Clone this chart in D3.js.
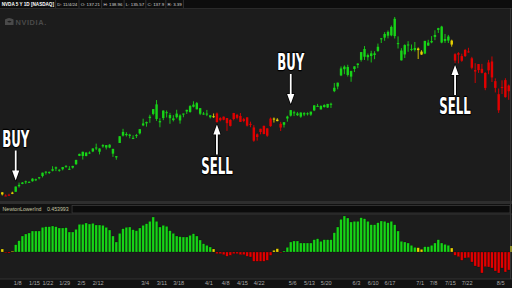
<!DOCTYPE html>
<html lang="en">
<head>
<meta charset="UTF-8">
<title>NVDA NewtonLowerInd</title>
<script src="https://cdn.jsdelivr.net/npm/d3@7"></script>
<style>
    html, body { margin: 0; padding: 0; background: #1c1c1c; }
    svg { display: block; }
</style>
</head>
<body>
<svg id="chart" width="512" height="288"></svg>
<script>
// trading days 2024 (1/2 .. 8/8)
var dates = [
    "1/2","1/3","1/4","1/5","1/8","1/9","1/10","1/11","1/12","1/16","1/17","1/18","1/19","1/22","1/23","1/24","1/25","1/26","1/29","1/30","1/31",
    "2/1","2/2","2/5","2/6","2/7","2/8","2/9","2/12","2/13","2/14","2/15","2/16","2/20","2/21","2/22","2/23","2/26","2/27","2/28","2/29",
    "3/1","3/4","3/5","3/6","3/7","3/8","3/11","3/12","3/13","3/14","3/15","3/18","3/19","3/20","3/21","3/22","3/25","3/26","3/27","3/28",
    "4/1","4/2","4/3","4/4","4/5","4/8","4/9","4/10","4/11","4/12","4/15","4/16","4/17","4/18","4/19","4/22","4/23","4/24","4/25","4/26","4/29","4/30",
    "5/1","5/2","5/3","5/6","5/7","5/8","5/9","5/10","5/13","5/14","5/15","5/16","5/17","5/20","5/21","5/22","5/23","5/24","5/28","5/29","5/30","5/31",
    "6/3","6/4","6/5","6/6","6/7","6/10","6/11","6/12","6/13","6/14","6/17","6/18","6/20","6/21","6/24","6/25","6/26","6/27","6/28",
    "7/1","7/2","7/3","7/5","7/8","7/9","7/10","7/11","7/12","7/15","7/16","7/17","7/18","7/19","7/22","7/23","7/24","7/25","7/26","7/29","7/30","7/31",
    "8/1","8/2","8/5","8/6","8/7","8/8"
];
var opens = [
    49.24,47.49,47.77,48.46,49.51,52.40,53.62,54.99,54.62,55.02,55.52,56.61,57.72,60.00,59.92,60.51,62.30,60.94,61.27,62.90,61.49,
    62.13,63.93,68.26,70.40,68.21,70.00,70.56,72.63,70.42,73.20,73.87,74.10,71.90,68.10,75.00,80.77,79.70,79.35,77.63,79.02,
    80.00,84.18,85.24,88.00,90.16,95.14,86.42,88.00,91.06,89.59,86.93,90.33,86.76,89.80,92.30,91.18,93.90,95.80,93.16,90.00,
    90.29,88.44,88.48,90.40,86.87,88.73,88.02,83.92,87.48,89.67,89.09,86.48,88.35,84.97,83.11,78.10,80.70,83.94,78.80,83.80,87.50,87.21,
    85.00,84.50,87.76,89.25,91.00,89.49,90.87,90.56,90.49,89.81,92.00,94.33,94.31,93.75,93.50,95.47,102.03,104.45,110.24,113.51,114.65,112.52,
    113.62,115.72,118.37,124.05,119.77,120.37,121.77,123.06,129.39,129.96,132.99,131.14,139.80,127.12,123.24,121.20,126.13,124.10,124.58,
    123.47,121.13,121.66,127.38,127.49,130.35,134.03,135.75,128.26,130.56,128.44,121.35,121.85,120.35,120.35,122.78,119.17,113.04,116.19,113.69,111.52,112.90,
    117.53,103.76,92.06,103.84,107.81,102.00
];
var highs = [
    49.30,48.18,48.50,49.55,52.28,54.33,54.60,55.35,54.97,56.59,56.38,57.26,59.50,60.29,60.06,62.87,62.70,61.28,62.48,63.49,62.90,
    63.06,66.20,69.40,70.45,70.03,70.59,72.18,74.65,72.22,74.38,73.94,74.35,71.99,68.20,78.57,82.39,80.61,79.77,78.99,79.72,
    82.32,87.66,86.15,89.73,92.67,97.40,87.92,91.97,91.95,90.71,89.50,92.32,89.96,90.30,92.33,94.76,96.76,96.38,93.25,91.20,
    92.25,89.46,90.38,90.90,88.47,88.80,88.03,87.39,90.70,90.18,90.61,88.10,88.41,86.12,84.30,80.00,82.40,84.05,82.65,88.30,88.30,87.92,
    86.02,85.89,89.24,92.22,91.80,91.20,90.96,91.10,90.98,91.31,94.63,95.40,94.70,95.19,95.38,96.00,106.32,106.48,114.94,115.49,115.82,112.72,
    115.00,116.60,122.45,125.59,121.69,123.10,122.87,126.88,129.80,132.84,133.73,136.33,140.76,130.63,124.46,126.50,128.12,126.41,127.71,
    124.84,123.41,128.28,128.85,130.77,133.82,135.10,136.15,131.92,131.39,128.92,121.85,122.40,121.60,124.07,124.69,119.95,116.63,116.20,116.28,111.99,118.34,
    120.16,108.72,103.41,107.71,108.80,105.50
];
var lows = [
    47.60,47.32,47.51,48.31,49.48,51.69,53.49,53.60,54.33,54.79,55.10,56.01,57.00,58.48,58.81,60.18,60.31,60.00,60.68,62.14,60.95,
    61.64,63.52,68.16,66.34,68.00,69.27,70.20,71.27,69.02,72.52,71.59,72.26,67.71,66.26,75.00,78.37,78.36,77.42,77.02,77.58,
    79.43,83.77,83.51,85.51,89.45,86.52,83.20,86.89,88.30,85.02,86.22,87.80,85.06,88.41,90.15,90.78,93.55,92.51,89.53,89.70,
    89.00,87.82,88.10,85.65,86.30,86.81,81.32,83.60,86.82,87.32,85.98,85.80,83.60,83.22,75.61,76.20,79.50,79.50,78.20,83.40,85.64,86.33,
    81.24,83.06,86.11,88.79,89.04,89.08,88.13,89.01,89.32,89.15,91.61,94.07,92.50,93.44,93.26,93.26,101.52,103.00,109.88,110.90,109.66,106.94,
    112.00,114.04,117.47,118.32,118.02,117.01,118.74,122.57,127.16,128.32,129.58,130.69,129.52,124.30,118.04,119.32,122.60,122.92,122.75,
    118.83,121.03,121.36,125.68,127.04,128.65,132.42,127.04,127.22,127.18,125.26,116.72,116.56,117.37,119.86,122.10,113.44,106.30,111.58,111.30,102.54,110.88,
    106.81,101.37,90.69,100.55,98.69,97.52
];
var closes = [
    48.17,47.57,48.00,49.10,52.25,53.14,54.35,54.82,54.70,56.38,56.05,57.10,59.49,59.61,59.85,61.30,61.62,61.02,62.44,62.77,61.53,
    63.03,66.16,69.30,68.21,70.01,69.63,72.13,72.23,72.11,73.90,72.61,72.60,69.42,67.45,78.51,78.82,79.09,78.70,77.66,79.11,
    82.23,85.20,85.96,88.70,92.67,87.53,85.76,91.91,90.87,87.93,87.84,88.45,89.37,90.36,91.43,94.25,95.00,92.56,90.25,90.36,
    90.34,89.44,88.96,85.90,88.00,87.11,85.34,87.04,90.62,88.12,86.00,87.42,84.04,84.60,76.20,79.52,82.41,79.68,82.63,87.72,87.74,86.40,
    83.04,85.82,88.79,92.14,90.55,90.41,88.75,89.87,90.40,91.35,94.63,94.36,92.48,94.78,95.39,94.95,103.80,106.47,113.90,114.83,110.50,109.63,
    115.00,116.44,122.44,120.00,120.89,121.79,120.91,125.20,129.61,131.88,130.98,135.58,130.78,126.57,118.11,126.09,126.40,123.99,123.54,
    124.30,122.67,128.28,125.83,128.20,131.38,134.91,127.40,129.24,128.44,126.36,117.99,121.09,117.93,123.54,122.59,114.25,112.28,113.06,111.59,103.73,117.02,
    109.21,107.27,100.45,104.25,98.91,104.97
];
// NewtonLowerInd histogram, one value per day
var histValues = [
    3,-0.5,-1,0.8,7.3,11.3,16,18,19,21,21,21,24.7,25.3,25.3,26,25.3,24,24,24.3,
    20,20,22.7,27.7,27.7,29,28,28.7,27,27,26.7,24.7,22,16,10,18.7,23.3,24.7,25,22.3,
    21.3,24,26.7,28.3,30.7,35,30.7,25,26.7,25.7,21.3,18.7,16,15.3,15,15,16.7,18.3,16,12,
    8.3,6.7,5,3,-1.7,-1.7,-2.7,-4.3,-3.3,-1.7,-1.7,-2.7,-2.7,-4.3,-5,-9.3,-9.3,-9.3,-9.3,-8.3,
    -3.3,1.7,3.3,-0.7,1,4.7,10,11,11,9,9,9,9,12.3,13.3,10.7,12.3,12.3,12.3,19.3,
    25,32.7,36,34,30,30.7,30.7,34.3,33.3,30.7,27.3,27.3,29.3,31,30.7,29.3,30.7,27.3,21,10.7,
    10,9,6.7,4.7,4.3,2.7,5.3,5.3,6.7,9,12.3,9,7.7,6.7,4,-3.3,-4.7,-8.3,-6,-5.7,
    -10,-14,-15,-21,-14.7,-15,-16,-19,-21,-16,-20,-18
];
// signal state runs: g = long, r = short, y = transition
var signalRuns = [["y",1],["r",2],["y",1],["g",59],["y",1],["r",17],["y",2],["r",1],["g",40],["y",2],["g",8],["y",1],["r",17]];

var tickDates  = ["1/8","1/16","1/22","1/29","2/5","2/12","3/4","3/11","3/18","4/1","4/8","4/15","4/22","5/6","5/13","5/20","6/3","6/10","6/17","7/1","7/8","7/15","7/22","8/5"];
var tickLabels = ["1/8","1/15","1/22","1/29","2/5","2/12","3/4","3/11","3/18","4/1","4/8","4/15","4/22","5/6","5/13","5/20","6/3","6/10","6/17","7/1","7/8","7/15","7/22","8/5"];

var headerFields = ["NVDA 5 Y 1D [NASDAQ]","D: 11/4/24","O: 137.21","H: 138.96","L: 135.57","C: 137.9","R: 3.39"];
var studyFields = ["NewtonLowerInd","0.453993"];

var annotations = [
    {text: "BUY",  date: "1/8",  dir: "down"},
    {text: "SELL", date: "4/4",  dir: "up"},
    {text: "BUY",  date: "5/6",  dir: "down"},
    {text: "SELL", date: "7/17", dir: "up"}
];

var colors = {g: "#17d417", r: "#e20000", y: "#e8d200"};

// expand signal runs
var signal = [];
signalRuns.forEach(function (r) {
    for (var k = 0; k < r[1]; k++) signal.push(r[0]);
});

var svg = d3.select("#chart");
var W = 512, H = 288;

// scales
var x = d3.scaleBand().domain(dates)
    .range([0.6, 0.6 + dates.length * 3.354])
    .paddingInner(0.28).paddingOuter(0.14);
var y = d3.scaleLinear().domain([45.23, 144.4]).range([200, 10]);
var yh = d3.scaleLinear().domain([-26, 38]).range([278, 214]);
function cx(d) { return x(d) + x.bandwidth() / 2; }

// backgrounds
svg.append("rect").attr("width", W).attr("height", H).attr("fill", "#1c1c1c");
// header
svg.append("rect").attr("width", W).attr("height", 8).attr("fill", "#0d0d0d");
svg.append("line").attr("x1", 0).attr("x2", W).attr("y1", 8.5).attr("y2", 8.5).attr("stroke", "#2a2a2a");
var hx = 0.5;
headerFields.forEach(function (f, i) {
    var t = svg.append("text").attr("x", hx + 1.2).attr("y", 5.8)
        .style("font-family", "Liberation Sans Narrow, Liberation Sans, Arial, sans-serif")
        .style("font-size", i === 0 ? "4.6px" : "4.4px")
        .style("font-weight", i === 0 ? "bold" : "normal")
        .attr("fill", i === 0 ? "#ffffff" : "#d6d6d6")
        .text(f);
    hx += t.node().getComputedTextLength() + 3.4;
    svg.append("line").attr("x1", hx - 0.5).attr("x2", hx - 0.5).attr("y1", 0).attr("y2", 8)
        .attr("stroke", "#3a3a3a").attr("stroke-width", 0.8);
});

// NVIDIA watermark
var wm = svg.append("g").attr("fill", "#4a4a4a");
wm.append("path").attr("d", "M5,19.5 Q9,16.5 13.5,19.5 L13.5,25 L5,25 Z M7.2,21.6 Q9.5,19.8 11.6,21.6 Q9.5,23.4 7.2,21.6 Z")
    .attr("fill-rule", "evenodd");
wm.append("text").attr("x", 15.5).attr("y", 25)
    .style("font-family", "Liberation Sans, Arial, sans-serif")
    .style("font-size", "7.4px").style("font-weight", "bold").style("letter-spacing", "0.6px")
    .text("NVIDIA.");

// panel separator and study label bar
svg.append("rect").attr("x", 0).attr("y", 201).attr("width", W).attr("height", 3).attr("fill", "#2e2e2e");
svg.append("rect").attr("x", 0).attr("y", 204).attr("width", W).attr("height", 10).attr("fill", "#111111");
var sx = 0.5;
studyFields.forEach(function (f) {
    var t = svg.append("text").attr("x", sx + 2).attr("y", 211)
        .style("font-family", "Liberation Sans, Arial, sans-serif")
        .style("font-size", "5.2px")
        .attr("fill", "#c4c4a2")
        .text(f);
    var w = t.node().getComputedTextLength() + 4;
    svg.insert("rect", "text").attr("x", sx).attr("y", 205.5).attr("width", w).attr("height", 7.5)
        .attr("fill", "none").attr("stroke", "#3a3a3a").attr("stroke-width", 0.8);
    sx += w + 1.5;
});
svg.append("rect").attr("x", sx).attr("y", 205.5).attr("width", 510 - sx).attr("height", 7.5)
    .attr("fill", "#0b0b0b").attr("stroke", "#3a3a3a").attr("stroke-width", 0.8);
svg.append("line").attr("x1", 0).attr("x2", W).attr("y1", 214).attr("y2", 214).attr("stroke", "#333");

// date axis band
svg.append("rect").attr("x", 0).attr("y", 279).attr("width", W).attr("height", 9).attr("fill", "#121212");
svg.append("line").attr("x1", 0).attr("x2", W).attr("y1", 279).attr("y2", 279).attr("stroke", "#333");

// candles
var candles = svg.append("g").selectAll("g").data(dates).enter().append("g");
candles.append("line")
    .attr("x1", function (d) { return cx(d); })
    .attr("x2", function (d) { return cx(d); })
    .attr("y1", function (d, i) { return y(highs[i]); })
    .attr("y2", function (d, i) { return y(lows[i]); })
    .attr("stroke", function (d, i) { return colors[signal[i]]; })
    .attr("stroke-width", 0.9);
candles.append("rect")
    .attr("x", function (d) { return x(d); })
    .attr("width", x.bandwidth())
    .attr("y", function (d, i) { return y(Math.max(opens[i], closes[i])); })
    .attr("height", function (d, i) { return Math.max(1, Math.abs(y(opens[i]) - y(closes[i]))); })
    .attr("fill", function (d, i) { return colors[signal[i]]; });

// histogram
svg.append("g").selectAll("rect").data(histValues).enter().append("rect")
    .attr("x", function (v, i) { return x(dates[i]) - 0.1; })
    .attr("width", x.bandwidth() + 0.2)
    .attr("y", function (v) { return yh(Math.max(0, v)); })
    .attr("height", function (v) { return Math.max(0.8, Math.abs(yh(v) - yh(0))); })
    .attr("fill", function (v, i) { return colors[signal[i]]; })
    .attr("stroke", "rgba(0,0,0,0.45)")
    .attr("stroke-width", 0.5);

// right edge + zero-line marker
svg.append("line").attr("x1", 510.5).attr("x2", 510.5).attr("y1", 8).attr("y2", 279).attr("stroke", "#353535");
svg.append("rect").attr("x", 510).attr("y", yh(0) - 6).attr("width", 2).attr("height", 6).attr("fill", "#8c8c2a");

// date axis
var axis = d3.axisBottom(x).tickValues(tickDates)
    .tickFormat(function (d) { return tickLabels[tickDates.indexOf(d)]; })
    .tickSize(0).tickPadding(0);
var ax = svg.append("g").attr("transform", "translate(2,281)").call(axis);
ax.select(".domain").remove();
ax.selectAll("text")
    .style("font-family", "Liberation Sans, Arial, sans-serif")
    .style("font-size", "5.6px")
    .attr("fill", "#a8a8a8");

// BUY / SELL annotations
var ann = svg.append("g");
annotations.forEach(function (a) {
    var i = dates.indexOf(a.date);
    var px = cx(a.date);
    var tip, tail, base, s;
    if (a.dir === "down") {
        tip = y(highs[i]) - 6; tail = tip - 30; base = tail - 3.5; s = -1;
    } else {
        tip = y(lows[i]) + 2; tail = tip + 30; base = tail + 19; s = 1;
    }
    var head = "M" + px + "," + tip + " L" + (px - 3.6) + "," + (tip + s * 10) + " L" + (px + 3.6) + "," + (tip + s * 10) + " Z";
    // outline
    ann.append("line").attr("x1", px).attr("x2", px).attr("y1", tail).attr("y2", tip + s * 8)
        .attr("stroke", "#000").attr("stroke-width", 3.6);
    ann.append("path").attr("d", head).attr("fill", "#000").attr("stroke", "#000").attr("stroke-width", 1.6).attr("stroke-linejoin", "round");
    ann.append("line").attr("x1", px).attr("x2", px).attr("y1", tail).attr("y2", tip + s * 8)
        .attr("stroke", "#fff").attr("stroke-width", 1.8);
    ann.append("path").attr("d", head).attr("fill", "#fff");
    ann.append("text")
        .attr("transform", "translate(" + px + "," + base + ") scale(0.57,1)")
        .attr("text-anchor", "middle")
        .style("font-family", "Liberation Sans Narrow, DejaVu Sans Condensed, Liberation Sans, sans-serif")
        .style("font-size", "23px").style("font-weight", "bold")
        .attr("fill", "#fff").attr("stroke", "#000").attr("stroke-width", 2.4)
        .attr("paint-order", "stroke").attr("stroke-linejoin", "round")
        .text(a.text);
});
</script>
</body>
</html>
